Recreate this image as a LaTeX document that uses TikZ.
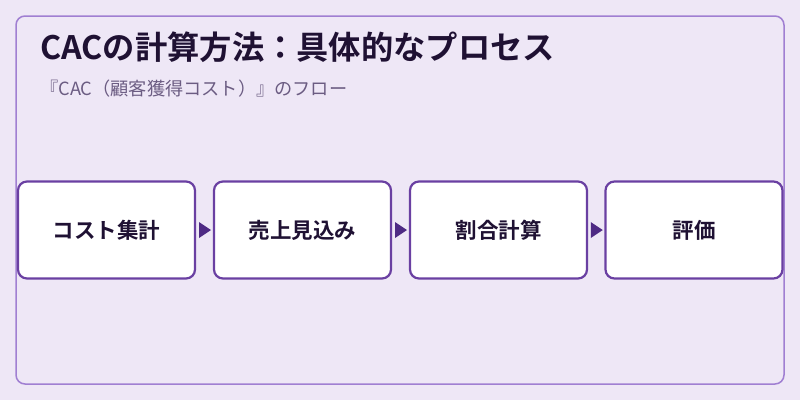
\documentclass[tikz,border=0pt]{standalone}
\usepackage{fontspec}
\setmainfont{Noto Sans CJK JP}[BoldFont={Noto Sans CJK JP Bold}]
\usetikzlibrary{positioning}
\definecolor{bgc}{HTML}{EEE7F6}
\definecolor{framec}{HTML}{A07FD2}
\definecolor{boxc}{HTML}{6A40A2}
\definecolor{arrc}{HTML}{4E2A84}
\definecolor{titlec}{HTML}{1F1133}
\definecolor{subc}{HTML}{6B5C82}
\tikzset{
  stepbox/.style={draw=boxc, line width=2.2pt, fill=white, rounded corners=9pt,
    minimum width=177pt, minimum height=97pt, inner sep=0pt,
    font=\bfseries\fontsize{21.5pt}{24pt}\selectfont, text=titlec},
  arr/.style={fill=arrc, draw=none},
}
\begin{document}
\begin{tikzpicture}[x=1pt,y=-1pt]
\useasboundingbox (0,0) rectangle (800,400);
\fill[bgc] (0,0) rectangle (800,400);
\draw[framec, line width=1.5pt, rounded corners=9pt] (16,16) rectangle (784,384);
\node[anchor=west, inner sep=0pt, text=titlec, font=\bfseries\fontsize{32.3pt}{35pt}\selectfont] (title) at (40,47) {CACの計算方法：具体的なプロセス};
\node[anchor=west, inner sep=0pt, text=subc, font=\fontsize{18.2pt}{20pt}\selectfont] (sub) at (40,89) {『CAC（顧客獲得コスト）』のフロー};
\node[stepbox] (b1) at (106.5,230) {コスト集計};
\node[stepbox] (b2) at (302.5,230) {売上見込み};
\node[stepbox] (b3) at (498.5,230) {割合計算};
\node[stepbox] (b4) at (694,230) {評価};
\foreach \a/\b in {b1/b2,b2/b3,b3/b4}{
  \path (\a.east) -- (\b.west) coordinate[pos=0.5] (m\a);
  \fill[arrc] ([xshift=-5.5pt,yshift=-8pt]m\a) -- ([xshift=6.5pt]m\a) -- ([xshift=-5.5pt,yshift=8pt]m\a) -- cycle;
}
\end{tikzpicture}
\end{document}
